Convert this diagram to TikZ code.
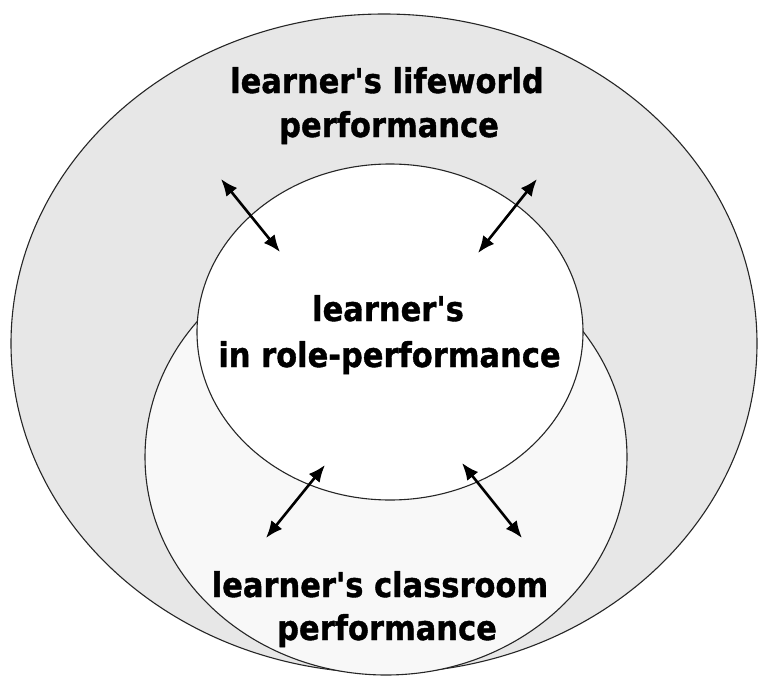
\documentclass[tikz,border=0pt]{standalone}
\usepackage{fontspec}
\setmainfont{DejaVu Sans}[BoldFeatures={FakeBold=1.2}]
\usepackage{graphicx}
\usetikzlibrary{arrows.meta}
\definecolor{outerfill}{gray}{0.905}
\definecolor{midfill}{gray}{0.972}
\newcommand{\tallline}[1]{\scalebox{1}[1.12]{#1}}
\tikzset{
  ring/.style={draw=black!85, line width=1.1pt},
  lbl/.style={anchor=base, inner sep=0pt, font=\bfseries\fontsize{30.5}{36}\selectfont},
  tipshape/.tip={Latex[length=17pt,width=14pt]},
  dbl/.style={tipshape-tipshape, line width=2.6pt}
}
\begin{document}
\begin{tikzpicture}[x=1pt,y=-1pt]
\fill[white] (0,0) rectangle (758,677);
\useasboundingbox (0,0) rectangle (758,677);
% rings
\path[ring, fill=outerfill] (384,343.5) ellipse [x radius=373pt, y radius=329.5pt];
\path[ring, fill=midfill] (386,457) ellipse [x radius=241pt, y radius=218pt];
\path[ring, fill=white] (390,332) ellipse [x radius=193pt, y radius=168pt];
% labels
\node[lbl] (lw1) at (387,93) {\tallline{learner\textquotesingle s lifeworld}};
\node[lbl] (lw2) at (389,137) {\tallline{performance}};
\node[lbl] (rp1) at (388,321) {\tallline{learner\textquotesingle s}};
\node[lbl] (rp2) at (389.5,367) {\tallline{in role-performance}};
\node[lbl] (cr1) at (380,597) {\tallline{learner\textquotesingle s classroom}};
\node[lbl] (cr2) at (387,640) {\tallline{performance}};
% arrow end points
\coordinate (a1s) at (221,179); \coordinate (a1e) at (280,252);
\coordinate (a2s) at (537,179); \coordinate (a2e) at (478,253);
\coordinate (a3s) at (325,465); \coordinate (a3e) at (266,538);
\coordinate (a4s) at (462,463); \coordinate (a4e) at (522,538);
\draw[dbl] (a1s) -- (a1e);
\draw[dbl] (a2s) -- (a2e);
\draw[dbl] (a3s) -- (a3e);
\draw[dbl] (a4s) -- (a4e);
\end{tikzpicture}
\end{document}
